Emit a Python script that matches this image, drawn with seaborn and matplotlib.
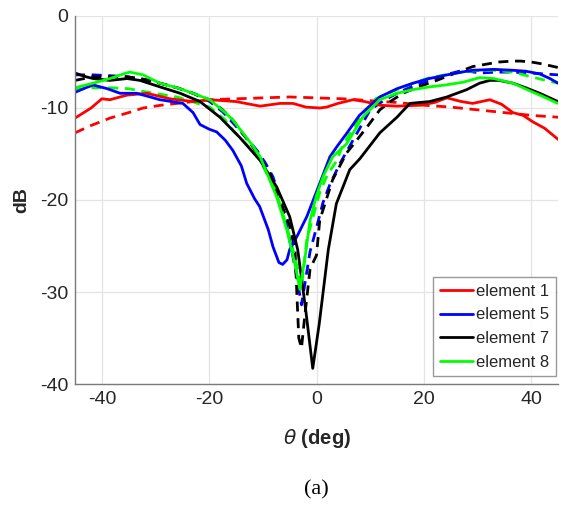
import numpy as np
import pandas as pd
import matplotlib
matplotlib.use("Agg")
import matplotlib.pyplot as plt
import seaborn as sns

# ---------------- data ----------------
e1_meas_x = [-45, -42, -40, -38.5, -35.3, -31.6, -27.3, -23, -19.9, -15, -10.5, -6.8, -4.4, -2, 0.6,
             1.9, 4, 6.8, 9, 11.8, 15, 19.2, 22, 24.3, 27, 29.1, 32.3, 34.5, 36.6, 38.5, 40.3, 42.5, 45]
e1_meas_y = [-11.1, -10.0, -9.0, -9.1, -8.6, -8.4, -9.0, -9.3, -9.1, -9.3, -9.8, -9.5, -9.5, -9.9, -10.0,
             -9.9, -9.5, -9.1, -9.3, -9.7, -9.8, -9.7, -9.4, -8.9, -9.3, -9.5, -9.1, -9.6, -10.5, -10.8,
             -11.5, -12.2, -13.4]

e1_sim_x = [-45, -42, -38.5, -35, -32.3, -29, -26, -23, -20, -15, -10, -5, 0, 5, 10, 15, 20, 25, 30,
            35, 40, 45]
e1_sim_y = [-12.7, -11.9, -11.1, -10.5, -10.0, -9.7, -9.5, -9.3, -9.1, -9.0, -8.9, -8.8, -8.9, -9.0,
            -9.2, -9.4, -9.7, -9.9, -10.2, -10.5, -10.8, -11.0]

e5_meas_x = [-45, -43, -41.6, -39, -36.6, -33.5, -31, -29.2, -27, -24.9, -23, -21.7, -20, -18.6, -17,
             -15.6, -14, -13, -11.5, -10.6, -9, -8.1, -7, -6.3, -5.5, -5, -3.5, -1.8, 0.6, 2.5, 3.8,
             5.7, 8, 11.8, 15, 18, 21, 24.3, 27, 29.1, 33, 36.6, 39, 41.6, 43.5, 45]
e5_meas_y = [-8.3, -7.8, -7.5, -7.9, -8.4, -8.4, -8.8, -9.1, -9.3, -9.5, -10.5, -11.8, -12.3, -12.6,
             -13.5, -14.6, -16.3, -18.2, -19.9, -20.7, -23.2, -25.1, -26.8, -27.0, -26.5, -25.4,
             -23.8, -21.8, -18.2, -15.3, -14.2, -12.7, -10.8, -8.8, -7.9, -7.3, -6.8, -6.4, -6.1,
             -5.9, -5.8, -5.9, -6.0, -6.3, -6.8, -7.3]

e5_sim_x = [-45, -41.6, -38, -35.3, -32, -29.2, -26, -23, -19.9, -17.5, -15.6, -13, -11.1, -9.5, -8.1,
            -6.8, -5.5, -4.0, -2.8, -1.2, 0, 1.2, 2.5, 4.4, 6.8, 10, 12.5, 15, 18, 21.1, 24, 27.3,
            30.4, 33.5, 36.6, 40, 45]
e5_sim_y = [-6.4, -6.4, -6.5, -6.6, -6.9, -7.3, -7.8, -8.4, -9.3, -10.4, -11.6, -13.3, -14.6, -16.0,
            -17.5, -19.8, -22.9, -27.3, -31.4, -25.6, -23.0, -20.3, -18.3, -16.0, -13.5, -10.2, -9.2,
            -8.4, -7.6, -7.0, -6.4, -5.9, -6.2, -6.1, -6.1, -6.2, -6.4]

e7_meas_x = [-45, -43, -41.6, -38.5, -35.3, -32.9, -29.2, -25.4, -21.7, -18, -14.3, -10.5, -7.4, -5,
             -3.5, -2.0, -0.7, 0.5, 2.2, 3.7, 6.2, 8.1, 11.8, 15, 17.4, 21.1, 24.3, 28, 30.4, 32.3, 34,
             36.6, 39, 41.6, 45]
e7_meas_y = [-6.2, -6.6, -6.8, -7.0, -6.8, -7.0, -7.7, -8.4, -9.3, -11.0, -13.2, -15.7, -18.6, -21.8,
             -25.4, -32.0, -38.3, -33.5, -25.4, -20.4, -16.7, -15.5, -12.7, -11.0, -9.5, -9.3, -8.8,
             -8.0, -7.3, -7.0, -7.0, -7.3, -7.8, -8.4, -9.3]

e7_sim_x = [-45, -41.6, -38, -35.3, -32, -29.2, -26, -23, -19.9, -17.5, -15.6, -11.9, -8.7, -6.3, -5,
            -4.0, -3.6, -3.3, -2.8, -2.2, -1.2, 0, 0.6, 3, 5.6, 7.5, 9.5, 11.8, 14, 16.1, 19, 22.4,
            25, 27.3, 29.1, 32, 34, 36.6, 38, 40, 42, 45]
e7_sim_y = [-7.0, -6.6, -6.6, -6.6, -6.9, -7.3, -7.8, -8.4, -9.1, -10.2, -11.3, -14.2, -17.1, -20.8,
            -22.8, -25.4, -31.0, -35.0, -36.1, -32.7, -27.5, -26.0, -22.2, -17.8, -14.9, -13.5, -12.0,
            -10.2, -9.2, -8.4, -7.7, -7.0, -6.4, -5.9, -5.5, -5.2, -5.0, -4.9, -4.9, -5.0, -5.2, -5.6]

e8_meas_x = [-45, -41.6, -38.5, -36, -34.8, -32.3, -29.2, -26, -23, -19.9, -17, -15.6, -12, -10.5,
             -7.4, -5.5, -4, -3.1, -2.2, -1.2, 0, 1.2, 3, 5.6, 8.6, 11.8, 15, 18, 21.1, 24, 27.3,
             30.4, 33, 36.6, 40, 42, 45]
e8_meas_y = [-7.8, -7.3, -6.8, -6.3, -6.1, -6.4, -7.3, -7.8, -8.4, -9.1, -10.5, -11.3, -14.0, -15.3,
             -19.7, -23.3, -27.0, -29.7, -26.5, -22.2, -19.5, -17.5, -15.3, -13.9, -11.0, -9.1, -8.4,
             -8.0, -7.7, -7.5, -7.2, -6.7, -6.8, -7.3, -8.2, -8.7, -9.5]

e8_sim_x = [-45, -41.6, -38.5, -35, -32.3, -26, -19.9, -17, -15.6, -12, -10.5, -7.4, -5, -3.5, -2.8,
            -1.8, 0.6, 2, 3.8, 4.9, 6.8, 8.6, 11, 15, 18, 21.1, 24, 27.3, 30.4, 33, 36.6, 40, 42, 45]
e8_sim_y = [-8.0, -7.8, -7.8, -7.9, -8.2, -8.8, -9.9, -11.3, -12.4, -14.6, -15.7, -19.3, -24.0, -27.5,
            -29.5, -24.3, -19.2, -17.3, -15.7, -14.0, -12.3, -10.6, -9.0, -8.0, -7.3, -6.7, -6.4,
            -6.1, -5.9, -5.9, -6.1, -6.6, -6.9, -7.3]

labels = ["element 1", "element 5", "element 7", "element 8"]
colors = ["#ff0000", "#0000ff", "#000000", "#00ff00"]
x_ticks = [-40, -20, 0, 20, 40]
y_ticks = [-40, -30, -20, -10, 0]

meas = [(e1_meas_x, e1_meas_y), (e5_meas_x, e5_meas_y), (e7_meas_x, e7_meas_y), (e8_meas_x, e8_meas_y)]
sims = [(e1_sim_x, e1_sim_y), (e5_sim_x, e5_sim_y), (e7_sim_x, e7_sim_y), (e8_sim_x, e8_sim_y)]

# ---------------- styling ----------------
sns.set_style("white")
plt.rcParams["font.family"] = ["Liberation Sans", "DejaVu Sans"]
plt.rcParams["axes.unicode_minus"] = False

fig = plt.figure(figsize=(5.61, 5.08), dpi=100)
ax = fig.add_axes([75 / 561, (508 - 384) / 508, (558 - 75) / 561, (384 - 16) / 508])

lw = 2.0
for (xd, yd), col in zip(sims, colors):
    df_s = pd.DataFrame({"theta": xd, "dB": yd})
    sns.lineplot(data=df_s, x="theta", y="dB", ax=ax, color=col, lw=lw, estimator=None,
                 sort=False, linestyle=(0, (3.6, 2.4)), label="_nolegend_")
for (xs, ys), lab, col in zip(meas, labels, colors):
    df_m = pd.DataFrame({"theta": xs, "dB": ys})
    sns.lineplot(data=df_m, x="theta", y="dB", ax=ax, color=col, lw=lw, estimator=None,
                 sort=False, label=lab)

ax.set_xlim(-45, 45)
ax.set_ylim(-40, 0)
ax.set_xticks(x_ticks)
ax.set_yticks(y_ticks)
ax.set_xticklabels([str(v) for v in x_ticks])
ax.set_yticklabels([str(v) for v in y_ticks])
ax.grid(True, color="#e4e4e4", lw=0.9)
ax.set_axisbelow(True)
for s in ["top", "right"]:
    ax.spines[s].set_visible(False)
for s in ["left", "bottom"]:
    ax.spines[s].set_color("#7a7a7a")
    ax.spines[s].set_linewidth(1.0)
ax.tick_params(direction="in", length=5, width=1, color="#7a7a7a",
               labelsize=14, labelcolor="#262626", pad=5)

ax.set_xlabel("")
ax.set_ylabel("")
fig.text(22 / 561, (508 - 200) / 508, "dB", ha="center", va="center", rotation=90,
         fontsize=14, fontweight="bold", color="#262626")
fig.text(317 / 561, (508 - 438) / 508, r"$\theta$ (deg)", ha="center",
         va="center", fontsize=14.5, fontweight="bold", color="#262626")

h, l = ax.get_legend_handles_labels()
leg = ax.legend(h, l, loc="upper left", bbox_to_anchor=((433 - 75) / 483, (384 - 277) / 368),
                borderaxespad=0, frameon=True, fancybox=False, fontsize=12,
                handlelength=2.0, handletextpad=0.2, labelspacing=0.52, borderpad=0.4)
leg.get_frame().set_edgecolor("#808080")
leg.get_frame().set_linewidth(1.0)
for t in leg.get_texts():
    t.set_color("#262626")

fig.text(316 / 561, (508 - 490) / 508, "(a)", ha="center", va="center", fontsize=16,
         family=["Liberation Serif", "DejaVu Serif"], color="#000000")

fig.savefig("out.png", dpi=100)
